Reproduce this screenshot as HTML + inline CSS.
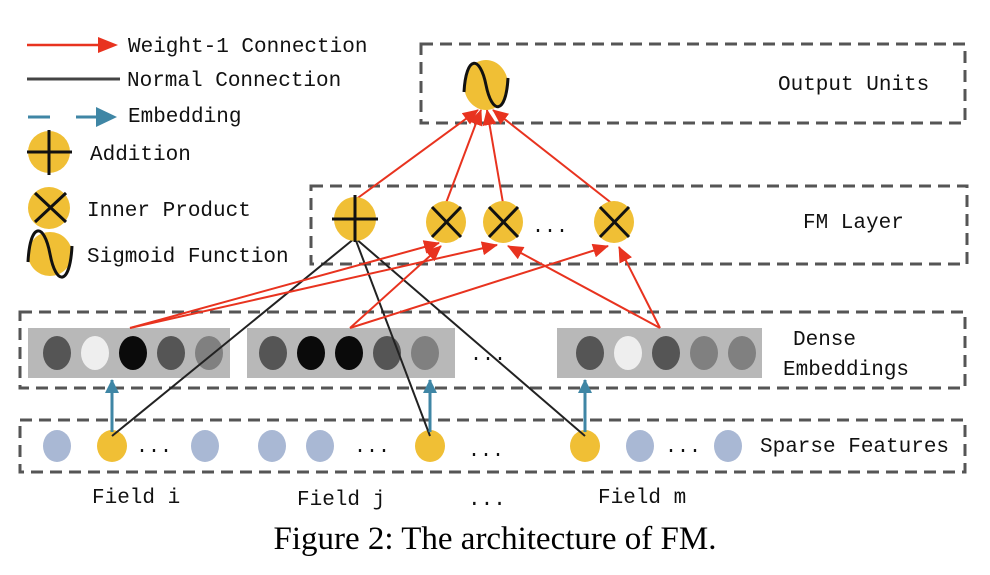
<!DOCTYPE html>
<html><head><meta charset="utf-8"><style>
body{margin:0;background:#fff;width:990px;height:570px;overflow:hidden}
svg text{font-family:"Liberation Mono",monospace;fill:#111}
</style></head><body>
<svg width="990" height="570" viewBox="0 0 990 570" xmlns="http://www.w3.org/2000/svg">
<defs>
<marker id="rb" markerWidth="16" markerHeight="14" refX="15" refY="7" orient="auto" markerUnits="userSpaceOnUse"><path d="M0,0 L16,7 L0,14z" fill="#e8331f"/></marker>
<marker id="ba" markerWidth="14" markerHeight="14" refX="13" refY="7" orient="auto" markerUnits="userSpaceOnUse"><path d="M0,0 L14,7 L0,14z" fill="#3f86a5"/></marker>
</defs>
<g fill="none" stroke="#555" stroke-width="3" stroke-dasharray="12,7">
<rect x="421" y="44" width="544" height="79"/>
<rect x="311" y="186" width="656" height="78"/>
<rect x="20" y="312" width="945" height="76"/>
<rect x="20" y="420" width="945" height="52"/>
</g>
<line x1="27" y1="45" x2="100" y2="45" stroke="#e8331f" stroke-width="2.5"/>
<path d="M98,37 L118,45 L98,53z" fill="#e8331f"/>
<text x="128" y="52" font-size="21">Weight-1 Connection</text>
<line x1="27" y1="79" x2="120" y2="79" stroke="#444" stroke-width="3"/>
<text x="127" y="86" font-size="21">Normal Connection</text>
<line x1="28" y1="117" x2="50" y2="117" stroke="#3f86a5" stroke-width="3"/>
<line x1="76" y1="117" x2="100" y2="117" stroke="#3f86a5" stroke-width="3"/>
<path d="M96,107 L117,117 L96,127z" fill="#3f86a5"/>
<text x="128" y="122" font-size="21">Embedding</text>
<circle cx="49" cy="152" r="21" fill="#f0bf35"/>
<path d="M49,130 V175 M27,152 H72" stroke="#111" stroke-width="3"/>
<text x="90" y="160" font-size="21">Addition</text>
<circle cx="49" cy="208" r="21" fill="#f0bf35"/>
<path d="M35,193 L66,222 M66,193 L35,222" stroke="#111" stroke-width="3"/>
<text x="87" y="216" font-size="21">Inner Product</text>
<circle cx="50" cy="254" r="22" fill="#f0bf35"/>
<path d="M28,262 C30,222 44,222 50,254 C56,286 70,286 72,246" fill="none" stroke="#111" stroke-width="3"/>
<text x="87" y="262" font-size="21">Sigmoid Function</text>
<text x="778" y="90" font-size="21">Output Units</text>
<text x="803" y="228" font-size="21">FM Layer</text>
<text x="793" y="345" font-size="21">Dense</text>
<text x="783" y="375" font-size="21">Embeddings</text>
<text x="760" y="452" font-size="21">Sparse Features</text>
<rect x="28" y="328" width="202" height="50" fill="#b8b8b8"/>
<rect x="247" y="328" width="208" height="50" fill="#b8b8b8"/>
<rect x="557" y="328" width="205" height="50" fill="#b8b8b8"/>
<g>
<ellipse cx="57" cy="353" rx="14" ry="17" fill="#555"/><ellipse cx="95" cy="353" rx="14" ry="17" fill="#eee"/><ellipse cx="133" cy="353" rx="14" ry="17" fill="#0a0a0a"/><ellipse cx="171" cy="353" rx="14" ry="17" fill="#555"/><ellipse cx="209" cy="353" rx="14" ry="17" fill="#808080"/>
<ellipse cx="273" cy="353" rx="14" ry="17" fill="#555"/><ellipse cx="311" cy="353" rx="14" ry="17" fill="#0a0a0a"/><ellipse cx="349" cy="353" rx="14" ry="17" fill="#0a0a0a"/><ellipse cx="387" cy="353" rx="14" ry="17" fill="#555"/><ellipse cx="425" cy="353" rx="14" ry="17" fill="#808080"/>
<ellipse cx="590" cy="353" rx="14" ry="17" fill="#555"/><ellipse cx="628" cy="353" rx="14" ry="17" fill="#eee"/><ellipse cx="666" cy="353" rx="14" ry="17" fill="#555"/><ellipse cx="704" cy="353" rx="14" ry="17" fill="#808080"/><ellipse cx="742" cy="353" rx="14" ry="17" fill="#808080"/>
</g>
<text x="470" y="360" font-size="20">...</text>
<g fill="#a9b8d4">
<ellipse cx="57" cy="446" rx="14" ry="16"/><ellipse cx="205" cy="446" rx="14" ry="16"/><ellipse cx="272" cy="446" rx="14" ry="16"/><ellipse cx="320" cy="446" rx="14" ry="16"/><ellipse cx="640" cy="446" rx="14" ry="16"/><ellipse cx="728" cy="446" rx="14" ry="16"/>
</g>
<g fill="#f0bf35">
<ellipse cx="112" cy="446" rx="15" ry="16"/><ellipse cx="430" cy="446" rx="15" ry="16"/><ellipse cx="585" cy="446" rx="15" ry="16"/>
</g>
<g font-size="20"><text x="136" y="452">...</text><text x="354" y="452">...</text><text x="468" y="456">...</text><text x="665" y="452">...</text></g>
<g font-size="21"><text x="92" y="503">Field i</text><text x="297" y="505">Field j</text><text x="468" y="505">...</text><text x="598" y="503">Field m</text></g>
<g stroke="#222" stroke-width="2">
<line x1="355" y1="238" x2="112" y2="436"/>
<line x1="355" y1="238" x2="430" y2="436"/>
<line x1="355" y1="238" x2="585" y2="436"/>
</g>
<g stroke="#3f86a5" stroke-width="3" marker-end="url(#ba)">
<line x1="112" y1="432" x2="112" y2="380"/><line x1="430" y1="432" x2="430" y2="380"/><line x1="585" y1="432" x2="585" y2="380"/>
</g>
<g stroke="#e8331f" stroke-width="2" marker-end="url(#rb)">
<line x1="355" y1="200" x2="478" y2="110"/>
<line x1="446" y1="203" x2="481" y2="110"/>
<line x1="503" y1="203" x2="487" y2="110"/>
<line x1="614" y1="205" x2="493" y2="110"/>
<line x1="130" y1="328" x2="439" y2="243"/>
<line x1="130" y1="328" x2="497" y2="245"/>
<line x1="350" y1="328" x2="441" y2="246"/>
<line x1="350" y1="328" x2="608" y2="246"/>
<line x1="660" y1="328" x2="508" y2="246"/>
<line x1="660" y1="328" x2="619" y2="247"/>
</g>
<ellipse cx="355" cy="219" rx="21" ry="22" fill="#f0bf35"/>
<path d="M355,195 V242 M332,219 H378" stroke="#111" stroke-width="3"/>
<g stroke="#111" stroke-width="3">
<ellipse cx="446" cy="222" rx="20" ry="21" fill="#f0bf35" stroke="none"/><path d="M432,207 L461,237 M461,207 L432,237"/>
<ellipse cx="503" cy="222" rx="20" ry="21" fill="#f0bf35" stroke="none"/><path d="M489,207 L518,237 M518,207 L489,237"/>
<ellipse cx="614" cy="222" rx="20" ry="21" fill="#f0bf35" stroke="none"/><path d="M600,207 L629,237 M629,207 L600,237"/>
</g>
<text x="532" y="232" font-size="20">...</text>
<ellipse cx="486" cy="85" rx="22" ry="25" fill="#f0bf35"/>
<path d="M464,92 C466,55 480,55 486,85 C492,115 506,115 508,78" fill="none" stroke="#111" stroke-width="3"/>
<text x="495" y="549" text-anchor="middle" font-size="33" style="font-family:'Liberation Serif',serif;fill:#000">Figure 2: The architecture of FM.</text>
</svg>
</body></html>
